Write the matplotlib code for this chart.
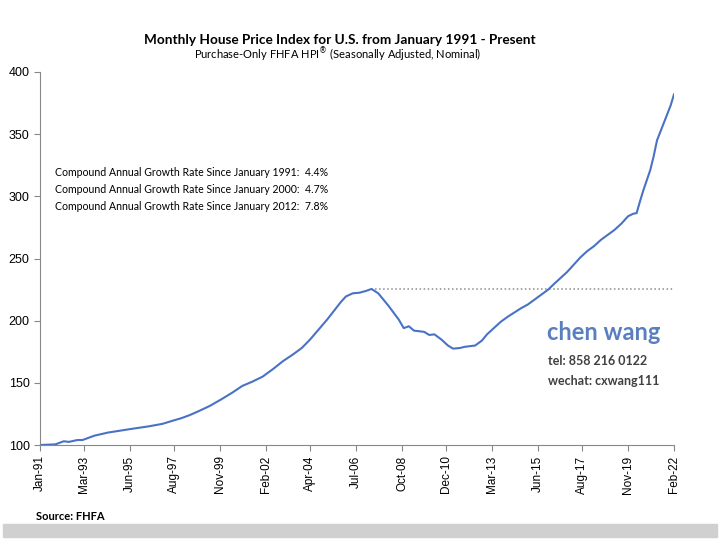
import matplotlib.pyplot as plt

# month offsets from Jan-1991
months = [0, 9, 14, 17, 22, 25, 32, 40, 47, 54, 64, 72, 78, 83, 88, 93, 100, 107, 113,
          119, 125, 131, 137, 143, 149, 154, 159, 164, 169, 173, 177, 180, 184, 188,
          192, 195, 199, 202, 205, 208, 211, 214, 217, 220, 223, 226, 229, 232, 236,
          240, 243, 247, 250, 253, 256, 260, 263, 267, 271, 275, 279, 283, 287, 291,
          295, 299, 302, 306, 310, 314, 318, 322, 326, 330, 334, 338, 342, 346, 349,
          351, 353, 355, 357, 359, 361, 363, 365, 367, 369, 371, 373]
hpi = [100, 100.5, 103, 102.5, 104, 104, 107.5, 110, 111.5, 113, 115, 117, 119.5, 121.5,
       124, 127, 131.5, 137, 142, 147.5, 151, 155, 161, 167.5, 173, 178, 185, 193,
       201, 208, 215, 219.5, 222, 222.5, 224, 225.5, 222, 217, 212, 206.5, 201, 194,
       195.5, 192, 191.5, 191, 188.5, 189, 185, 180, 177.5, 178, 179, 179.5, 180,
       184, 189, 194, 199, 203, 206.5, 210, 213, 217, 221, 225, 229, 234, 239, 245,
       251, 256, 260, 265, 269, 273, 278, 284, 286, 286.5, 296, 305, 313, 321, 332,
       345, 352, 359, 366, 373, 382]
tick_pos = [0, 26, 53, 79, 106, 133, 159, 186, 213, 239, 266, 293, 319, 346, 373]
tick_lab = ['Jan-91', 'Mar-93', 'Jun-95', 'Aug-97', 'Nov-99', 'Feb-02', 'Apr-04', 'Jul-06',
            'Oct-08', 'Dec-10', 'Mar-13', 'Jun-15', 'Aug-17', 'Nov-19', 'Feb-22']
cagr = [('1991', '4.4%'), ('2000', '4.7%'), ('2012', '7.8%')]

fig = plt.figure(figsize=(7.2, 5.4), dpi=100)
ax = fig.add_axes([40/720, 1-445/540, 634/720, 373/540])

# 2007 peak -> dotted reference line to the end
pre = [h for m, h in zip(months, hpi) if m < 240]
peak_i = hpi.index(max(pre))
ax.plot([months[peak_i], months[-1]], [hpi[peak_i], hpi[peak_i]],
        color='#8c8c8c', lw=1.1, ls=':', zorder=1)
ax.plot(months, hpi, color='#4a72c4', lw=1.5, zorder=2)

ax.set_xlim(0, 373)
ax.set_ylim(100, 400)
ax.set_yticks(range(100, 401, 50))
ax.set_xticks(tick_pos)
ax.set_xticklabels(tick_lab, rotation=90, fontsize=8.5, family='Liberation Sans')
for lab in ax.get_yticklabels():
    lab.set_family('Liberation Sans')
    lab.set_fontsize(9)
for s in ['top', 'right']:
    ax.spines[s].set_visible(False)
for s in ['left', 'bottom']:
    ax.spines[s].set_color('#888888')
ax.tick_params(colors='#888888', labelcolor='black', length=4, width=0.8)

fig.text(340/720, 1-40/540, 'Monthly House Price Index for U.S. from January 1991 - Present',
         ha='center', va='center', fontsize=9.8, fontweight='bold', family='Lato')
fig.text(338/720, 1-55/540, 'Purchase-Only FHFA HPI$^{®}$ (Seasonally Adjusted, Nominal)',
         ha='center', va='center', fontsize=8, family='Lato')

for i, (yr, rate) in enumerate(cagr):
    fig.text(55/720, 1-(172+17.5*i)/540,
             'Compound Annual Growth Rate Since January %s:  %s' % (yr, rate),
             ha='left', va='center', fontsize=7.6, family='Lato')

fig.text(547/720, 1-333/540, 'chen wang', color='#5a7fbf', fontsize=17,
         fontweight='bold', family='Lato', va='center')
fig.text(548/720, 1-361/540, 'tel: 858 216 0122', color='#404040', fontsize=9,
         fontweight='bold', family='Lato', va='center')
fig.text(548/720, 1-381/540, 'wechat: cxwang111', color='#404040', fontsize=9,
         fontweight='bold', family='Lato', va='center')

fig.text(36/720, 1-516/540, 'Source: FHFA', fontsize=8, fontweight='bold',
         family='Lato', va='center')
fig.patches.append(plt.Rectangle((3/720, 3/540), 714/720, 13/540, color='#d0d0d0',
                                 transform=fig.transFigure, figure=fig))

fig.savefig('out.png', dpi=100)
